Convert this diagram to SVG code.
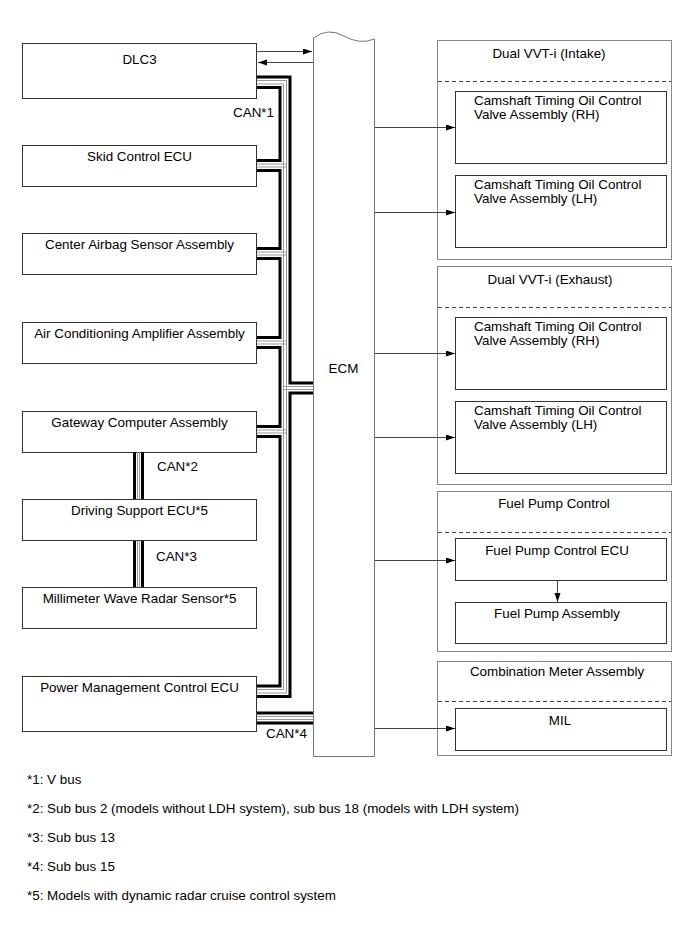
<svg xmlns="http://www.w3.org/2000/svg" width="690" height="951" viewBox="0 0 690 951">
<style>
text{font-family:"Liberation Sans",Arial,sans-serif;font-size:13.4px;fill:#000}
.c{text-anchor:middle}
.box{fill:#fff;stroke:#333;stroke-width:1}
.grp{fill:#fff;stroke:#888;stroke-width:1}
.ecm{fill:#fff;stroke:#777;stroke-width:1}
.dash{stroke:#444;stroke-width:1;stroke-dasharray:4 3;fill:none}
.bus{fill:none;stroke:#000;stroke-width:3}
.bg{fill:none;stroke:#999;stroke-width:1}
.wire{fill:none;stroke:#444;stroke-width:1}
</style>
<defs>
<marker id="ah" markerUnits="userSpaceOnUse" markerWidth="10" markerHeight="8" refX="9" refY="3" orient="auto">
<path d="M0,0 L9,3 L0,6 z" fill="#000"/>
</marker>
</defs>
<rect width="690" height="951" fill="#fff"/>

<g id="ecm">
<path class="ecm" d="M313.5,38 Q328,27 344,36 T374.5,39 V756.5 H313.5 Z"/>
<text class="c" x="343.5" y="373">ECM</text>
</g>

<g id="dlc3"><rect class="box" x="22.5" y="43.5" width="234" height="55"/><text class="c" x="139.5" y="64">DLC3</text></g>
<g id="skid"><rect class="box" x="22.5" y="145.5" width="234" height="41"/><text class="c" x="139.5" y="161">Skid Control ECU</text></g>
<g id="airbag"><rect class="box" x="22.5" y="233.5" width="234" height="41"/><text class="c" x="139.5" y="249">Center Airbag Sensor Assembly</text></g>
<g id="ac"><rect class="box" x="22.5" y="322.5" width="234" height="41"/><text class="c" x="139.5" y="338">Air Conditioning Amplifier Assembly</text></g>
<g id="gateway"><rect class="box" x="22.5" y="411.5" width="234" height="41"/><text class="c" x="139.5" y="427">Gateway Computer Assembly</text></g>
<g id="dsecu"><rect class="box" x="22.5" y="499.5" width="234" height="41"/><text class="c" x="139.5" y="515">Driving Support ECU*5</text></g>
<g id="mwr"><rect class="box" x="22.5" y="587.5" width="234" height="41"/><text class="c" x="139.5" y="603">Millimeter Wave Radar Sensor*5</text></g>
<g id="pm"><rect class="box" x="22.5" y="676.5" width="234" height="55"/><text class="c" x="139.5" y="692">Power Management Control ECU</text></g>

<g id="intake">
<rect class="grp" x="437.5" y="40.5" width="234" height="219"/>
<text class="c" x="549" y="57.5">Dual VVT-i (Intake)</text>
<path class="dash" d="M438,81.5 H671"/>
<g id="intake-rh"><rect class="box" x="455.5" y="91.5" width="211" height="72"/><text x="474" y="104.5">Camshaft Timing Oil Control</text><text x="474" y="118.5">Valve Assembly (RH)</text></g>
<g id="intake-lh"><rect class="box" x="455.5" y="175.5" width="211" height="72"/><text x="474" y="188.5">Camshaft Timing Oil Control</text><text x="474" y="202.5">Valve Assembly (LH)</text></g>
</g>

<g id="exhaust">
<rect class="grp" x="437.5" y="266.5" width="234" height="218"/>
<text class="c" x="550" y="283.5">Dual VVT-i (Exhaust)</text>
<path class="dash" d="M438,307.5 H671"/>
<g id="exhaust-rh"><rect class="box" x="455.5" y="317.5" width="211" height="72"/><text x="474" y="330.5">Camshaft Timing Oil Control</text><text x="474" y="344.5">Valve Assembly (RH)</text></g>
<g id="exhaust-lh"><rect class="box" x="455.5" y="401.5" width="211" height="72"/><text x="474" y="414.5">Camshaft Timing Oil Control</text><text x="474" y="428.5">Valve Assembly (LH)</text></g>
</g>

<g id="fuelpump">
<rect class="grp" x="437.5" y="491.5" width="234" height="160"/>
<text class="c" x="554" y="507.5">Fuel Pump Control</text>
<path class="dash" d="M438,532.5 H671"/>
<g id="fp-ecu"><rect class="box" x="455.5" y="538.5" width="211" height="42"/><text class="c" x="557" y="554.5">Fuel Pump Control ECU</text></g>
<g id="fp-assy"><rect class="box" x="455.5" y="602.5" width="211" height="41"/><text class="c" x="557" y="618">Fuel Pump Assembly</text></g>
</g>

<g id="combmeter">
<rect class="grp" x="437.5" y="661.5" width="234" height="94"/>
<text class="c" x="557" y="676">Combination Meter Assembly</text>
<path class="dash" d="M438,701.5 H671"/>
<g id="mil"><rect class="box" x="455.5" y="708.5" width="211" height="42"/><text class="c" x="560" y="724.5">MIL</text></g>
</g>

<g id="connectors">
<path class="wire" d="M257,51.5 H312" marker-end="url(#ah)"/>
<path class="wire" d="M313,62.5 H258" marker-end="url(#ah)"/>
<path class="wire" d="M375,127.5 H455" marker-end="url(#ah)"/>
<path class="wire" d="M375,212.5 H455" marker-end="url(#ah)"/>
<path class="wire" d="M375,353.5 H455" marker-end="url(#ah)"/>
<path class="wire" d="M375,437.5 H455" marker-end="url(#ah)"/>
<path class="wire" d="M375,560.5 H455" marker-end="url(#ah)"/>
<path class="wire" d="M557.5,581 V602" marker-end="url(#ah)"/>
<path class="wire" d="M375,728.5 H455" marker-end="url(#ah)"/>

<g id="can1">
<path class="bg" d="M257,80.5 H286.5 V693 H257"/>
<path class="bg" d="M257,84 H283.5 V689.5 H257"/>
<path class="bg" d="M257,164 H286.5 M257,167 H286.5 M257,252 H286.5 M257,255 H286.5 M257,341 H286.5 M257,344 H286.5 M257,430 H286.5 M257,433 H286.5"/>
<path class="bg" d="M283.5,386.5 H313 M283.5,389.5 H313"/>
<path class="bus" d="M257,77 H290 V383 H313 M313,393 H290 V696.5 H257"/>
<path class="bus" d="M257,87.5 H280 V160.5 H257 M257,170.5 H280 V248.5 H257 M257,258.5 H280 V337.5 H257 M257,347.5 H280 V426.5 H257 M257,436.5 H280 V686 H257"/>
</g>
<g id="can2">
<path class="bg" d="M137.5,452 V499 M139.5,452 V499"/>
<path class="bus" d="M134.5,452 V499 M142.5,452 V499"/>
</g>
<g id="can3">
<path class="bg" d="M137.5,541 V587 M139.5,541 V587"/>
<path class="bus" d="M134.5,541 V587 M142.5,541 V587"/>
</g>
<g id="can4">
<path class="bg" d="M257,716.5 H313 M257,719.5 H313"/>
<path class="bus" d="M257,713 H313 M257,723 H313"/>
</g>
</g>

<g id="labels">
<text x="274" y="117" text-anchor="end">CAN*1</text>
<text x="157" y="471">CAN*2</text>
<text x="156" y="561">CAN*3</text>
<text x="266" y="738">CAN*4</text>
</g>

<g id="notes">
<text x="27" y="784">*1: V bus</text>
<text x="27" y="813">*2: Sub bus 2 (models without LDH system), sub bus 18 (models with LDH system)</text>
<text x="27" y="842">*3: Sub bus 13</text>
<text x="27" y="871">*4: Sub bus 15</text>
<text x="27" y="900">*5: Models with dynamic radar cruise control system</text>
</g>
</svg>
